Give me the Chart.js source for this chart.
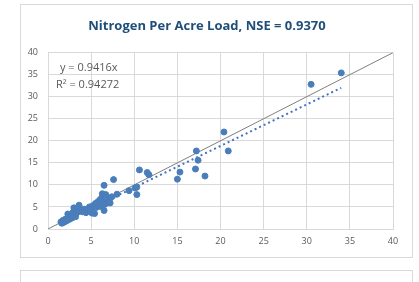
<!DOCTYPE html>
<html>
<head>
<meta charset="utf-8">
<script src="https://cdn.jsdelivr.net/npm/chart.js@4"></script>
<style>
  body { margin: 0; background: #fff; width: 419px; height: 282px; overflow: hidden; position: relative; }
  #frame { position: absolute; left: 20px; top: 4px; width: 391px; height: 252px; border: 1px solid #d9d9d9; }
  #frame2 { position: absolute; left: 20px; top: 270px; width: 391px; height: 40px; border: 1px solid #d9d9d9; }
  canvas { display: block; }
</style>
</head>
<body>
<div id="frame"><canvas id="Wykres_1" width="391" height="252"></canvas></div>
<div id="frame2"></div>
<script>
// observed vs simulated nitrogen per acre load
const observed = [1.5, 1.6, 1.7, 1.8, 1.9, 2.0, 2.1, 2.2, 2.3, 2.4, 2.5, 2.6, 2.7, 2.8, 2.9, 3.0, 3.1, 3.2, 3.3, 3.4,
    3.6, 3.8, 4.0, 4.2, 4.4, 4.6, 4.8, 5.0, 5.1, 5.2, 5.4, 5.5, 5.6, 5.8, 5.9, 6.0, 6.1, 6.2, 6.3, 6.4,
    6.5, 6.5, 6.6, 6.7, 6.8, 7.0, 7.1, 7.2, 7.4, 7.6, 8.0, 9.4, 10.1, 10.3, 10.3, 10.6, 11.5, 11.7, 15.0, 15.3,
    17.1, 17.2, 17.4, 18.2, 20.4, 20.9, 30.5, 34.0];
const simulated = [1.6, 1.3, 1.9, 1.5, 2.1, 1.7, 2.3, 1.9, 3.4, 2.6, 2.2, 2.9, 3.1, 2.5, 3.8, 4.8, 3.2, 2.8, 3.6, 4.1,
    5.4, 4.3, 3.9, 4.5, 3.7, 4.2, 5.0, 4.6, 3.6, 5.3, 3.5, 5.8, 4.9, 6.2, 5.5, 6.6, 5.1, 7.0, 8.0, 6.3,
    4.2, 9.9, 5.6, 7.8, 6.0, 6.9, 6.4, 5.9, 7.3, 11.2, 7.9, 8.7, 9.3, 9.5, 7.8, 13.4, 12.8, 12.3, 11.3, 12.9,
    13.6, 17.7, 15.6, 12.0, 22.0, 17.7, 32.8, 35.4];
const slope = 0.9416;
const rSquared = '0.94272';
const nse = '0.9370';
const axisTicks = [0, 5, 10, 15, 20, 25, 30, 35, 40];

const points = [];
for (let i = 0; i < observed.length; i++) {
    points.push({x: observed[i], y: simulated[i]});
}
const xMin = Math.min(...observed);
const xMax = Math.max(...observed);
const trend = [{x: xMin, y: slope * xMin}, {x: xMax, y: slope * xMax}];
const oneToOne = [{x: axisTicks[0], y: axisTicks[0]}, {x: axisTicks[axisTicks.length - 1], y: axisTicks[axisTicks.length - 1]}];

const equationLabel = {
    id: 'equationLabel',
    afterDatasetsDraw(chart) {
        const ctx = chart.ctx;
        const area = chart.chartArea;
        ctx.save();
        ctx.fillStyle = '#595959';
        ctx.font = '11px "Open Sans", sans-serif';
        ctx.textBaseline = 'middle';
        ctx.fillText('y = ' + slope + 'x', area.left + 12, area.top + 15);
        ctx.fillText('R\u00b2 = ' + rSquared, area.left + 8, area.top + 32);
        ctx.restore();
    }
};

const gray = '#595959';
const gridColor = '#d9d9d9';

const ctx = document.getElementById('Wykres_1').getContext('2d');
const chart = new Chart(ctx, {
    type: 'scatter',
    data: {
        datasets: [{
            data: oneToOne,
            showLine: true,
            borderColor: '#7f7f7f',
            borderWidth: 1,
            pointRadius: 0,
            order: 3
        }, {
            data: trend,
            showLine: true,
            borderColor: '#4472c4',
            borderWidth: 2,
            borderDash: [2, 3],
            pointRadius: 0,
            order: 2
        }, {
            data: points,
            backgroundColor: '#4a7ebb',
            borderColor: '#4a7ebb',
            pointRadius: 3,
            order: 1
        }]
    },
    plugins: [equationLabel],
    options: {
        responsive: false,
        animation: false,
        layout: {
            padding: {left: 0, right: 19, top: 0, bottom: 0}
        },
        plugins: {
            legend: {
                display: false
            },
            tooltip: {
                enabled: false
            },
            title: {
                display: true,
                text: 'Nitrogen Per Acre Load, NSE = ' + nse,
                color: '#1f4e79',
                font: {family: '"Open Sans", sans-serif', size: 13, weight: 'bold'},
                padding: {top: 13, bottom: 19}
            }
        },
        scales: {
            x: {
                type: 'linear',
                min: 0,
                max: 40,
                afterBuildTicks: (scale) => { scale.ticks = axisTicks.map(v => ({value: v})); },
                afterFit: (scale) => { scale.height = 28; },
                grid: {color: gridColor, drawTicks: false},
                border: {color: gridColor},
                ticks: {color: gray, padding: 7, font: {family: '"Open Sans", sans-serif', size: 9}}
            },
            y: {
                type: 'linear',
                min: 0,
                max: 40,
                afterBuildTicks: (scale) => { scale.ticks = axisTicks.map(v => ({value: v})); },
                afterFit: (scale) => { scale.width = 27; },
                grid: {color: gridColor, drawTicks: false},
                border: {color: gridColor},
                ticks: {color: gray, padding: 10, font: {family: '"Open Sans", sans-serif', size: 9}}
            }
        }
    }
});
</script>
</body>
</html>
